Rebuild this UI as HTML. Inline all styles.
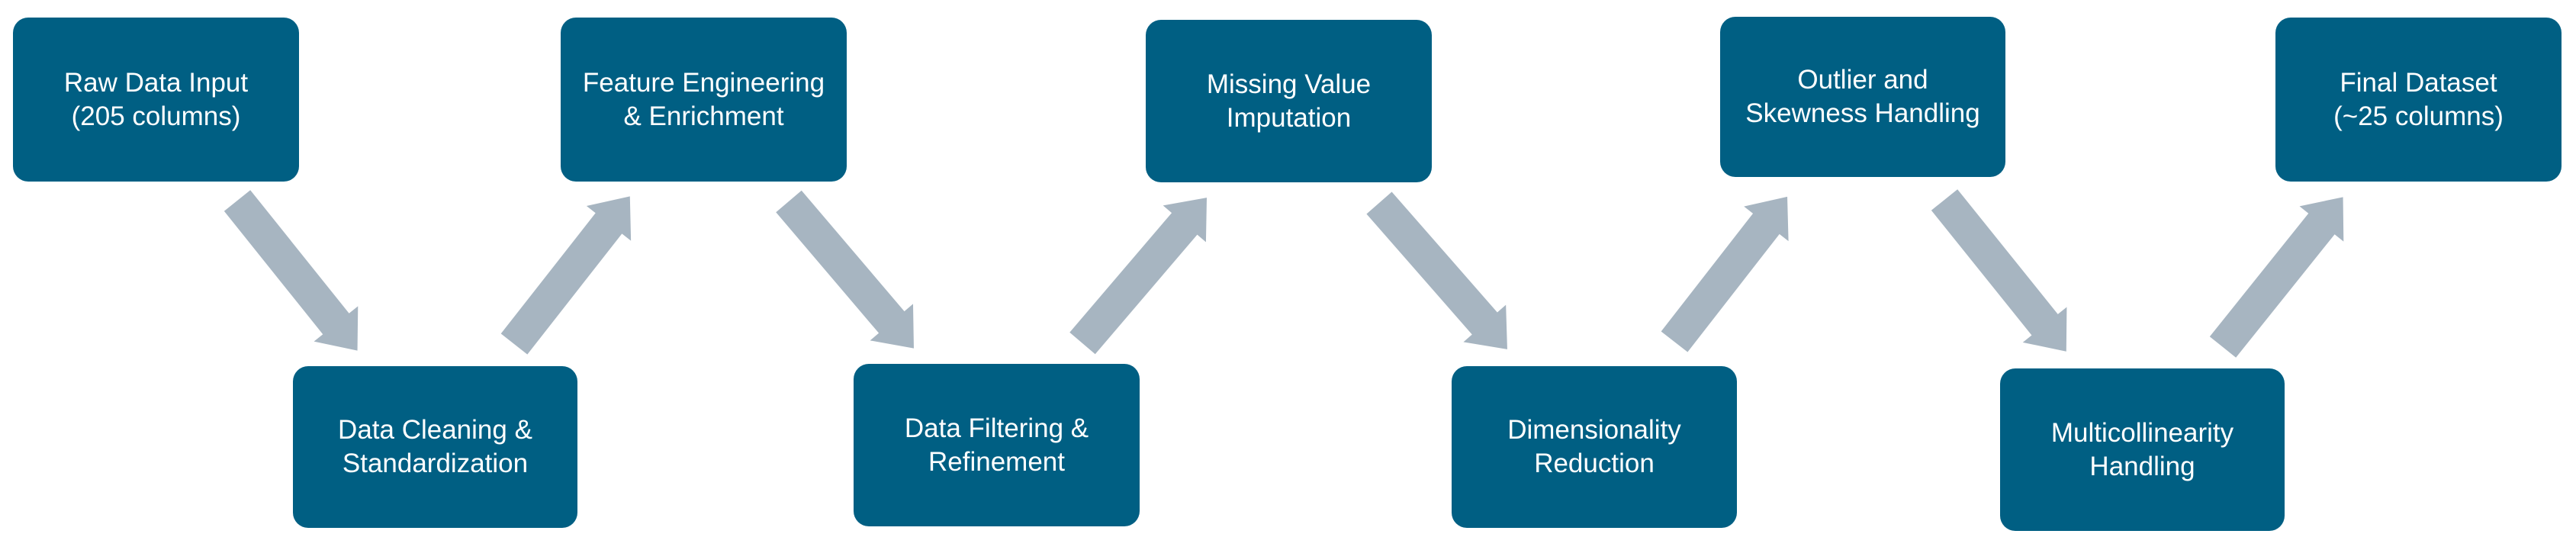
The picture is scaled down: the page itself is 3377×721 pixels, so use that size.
<!DOCTYPE html>
<html><head><meta charset="utf-8"><style>
html,body{margin:0;padding:0;background:#fff;}
body{width:3377px;height:721px;position:relative;overflow:hidden;font-family:"Liberation Sans",Arial,sans-serif;}
.b{position:absolute;background:#005f83;border-radius:20px;color:#fff;display:flex;align-items:center;justify-content:center;text-align:center;font-size:35px;line-height:44px;}
svg{position:absolute;left:0;top:0;}
</style></head><body>
<svg width="3377" height="721">
<g fill="#a7b5c1">
<g transform="translate(311,263) rotate(51.3)"><polygon points="0,-22 207,-22 207,-37 252,0 207,37 207,22 0,22"/></g>
<g transform="translate(674,451) rotate(-51.9)"><polygon points="0,-22 201,-22 201,-37 246,0 201,37 201,22 0,22"/></g>
<g transform="translate(1034,264) rotate(49.6)"><polygon points="0,-22 208,-22 208,-37 253,0 208,37 208,22 0,22"/></g>
<g transform="translate(1419,450) rotate(-49.5)"><polygon points="0,-22 206,-22 206,-37 251,0 206,37 206,22 0,22"/></g>
<g transform="translate(1808,266) rotate(48.8)"><polygon points="0,-22 210,-22 210,-37 255,0 210,37 210,22 0,22"/></g>
<g transform="translate(2195,448) rotate(-52.1)"><polygon points="0,-22 196,-22 196,-37 241,0 196,37 196,22 0,22"/></g>
<g transform="translate(2549,262) rotate(51.2)"><polygon points="0,-22 210,-22 210,-37 255,0 210,37 210,22 0,22"/></g>
<g transform="translate(2914,455) rotate(-51.3)"><polygon points="0,-22 207,-22 207,-37 252,0 207,37 207,22 0,22"/></g>
</g>
</svg>
<div class="b" style="left:17px;top:23px;width:375px;height:215px;">Raw Data Input<br>(205 columns)</div>
<div class="b" style="left:735px;top:23px;width:375px;height:215px;">Feature Engineering<br>&amp; Enrichment</div>
<div class="b" style="left:1502px;top:26px;width:375px;height:213px;">Missing Value<br>Imputation</div>
<div class="b" style="left:2255px;top:22px;width:374px;height:210px;">Outlier and<br>Skewness Handling</div>
<div class="b" style="left:2983px;top:23px;width:375px;height:215px;">Final Dataset<br>(~25 columns)</div>
<div class="b" style="left:384px;top:480px;width:373px;height:212px;">Data Cleaning &amp;<br>Standardization</div>
<div class="b" style="left:1119px;top:477px;width:375px;height:213px;">Data Filtering &amp;<br>Refinement</div>
<div class="b" style="left:1903px;top:480px;width:374px;height:212px;">Dimensionality<br>Reduction</div>
<div class="b" style="left:2622px;top:483px;width:373px;height:213px;">Multicollinearity<br>Handling</div>
</body></html>
